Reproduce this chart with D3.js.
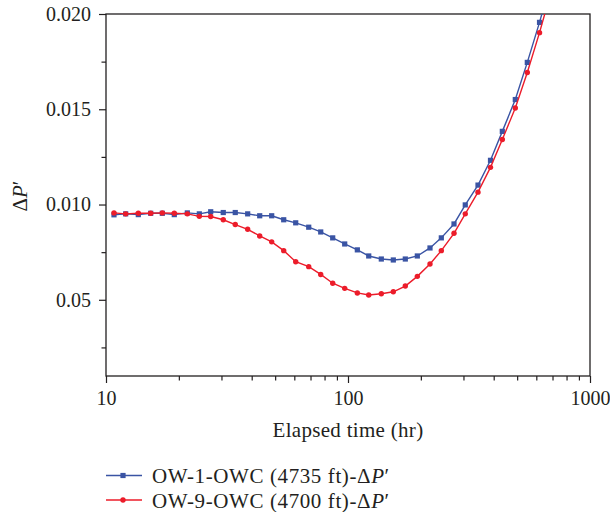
<!DOCTYPE html>
<html>
<head>
<meta charset="utf-8">
<script src="https://cdn.jsdelivr.net/npm/d3@7"></script>
<style>
  html, body { margin: 0; padding: 0; background: #fff; }
  svg { display: block; }
  text { font-family: "Liberation Serif", "DejaVu Serif", serif; fill: #231f20; }
</style>
</head>
<body>
<svg id="chart" width="610" height="512"></svg>
<script>
// ---- data ----
const elapsedHr = [10.79, 12.06, 13.60, 15.30, 17.09, 19.15, 21.68, 24.30, 27.08, 30.52,
  34.21, 38.50, 43.17, 48.38, 54.24, 60.80, 68.82, 77.14, 86.46, 96.91,
  109.3, 121.8, 137.3, 153.9, 172.5, 193.4, 218.2, 243.0, 274.2, 305.2,
  344.5, 388.0, 434.2, 491.3, 550.7, 618.6, 694.0];
const ow1 = [0.00946, 0.00951, 0.00947, 0.00954, 0.00954, 0.00947, 0.00956, 0.00951, 0.00962, 0.00958,
  0.00958, 0.00951, 0.00941, 0.00941, 0.00920, 0.00904, 0.00881, 0.00856, 0.00825, 0.00793,
  0.00762, 0.00730, 0.00714, 0.00709, 0.00714, 0.00730, 0.00772, 0.00825, 0.00898, 0.00998,
  0.01102, 0.01232, 0.01384, 0.01551, 0.01746, 0.01956, 0.02183];
const ow9 = [0.00956, 0.00951, 0.00954, 0.00954, 0.00956, 0.00954, 0.00951, 0.00938, 0.00937, 0.00920,
  0.00895, 0.00870, 0.00835, 0.00804, 0.00758, 0.00700, 0.00674, 0.00633, 0.00587, 0.00560,
  0.00536, 0.00525, 0.00532, 0.00542, 0.00572, 0.00623, 0.00688, 0.00758, 0.00849, 0.00951,
  0.01065, 0.01195, 0.01341, 0.01507, 0.01693, 0.01902, 0.02128];
const seriesNames = ["OW-1-OWC (4735 ft)-", "OW-9-OWC (4700 ft)-"];
const xTickValues = [10, 100, 1000];
const xTickLabels = ["10", "100", "1000"];
const yTickValues = [0.020, 0.015, 0.010, 0.005];
const yTickLabels = ["0.020", "0.015", "0.010", "0.05"];
const yMinorTicks = [0.0175, 0.0125, 0.0075, 0.0025];
const xMinorTicks = [20, 30, 40, 50, 60, 70, 80, 90, 200, 300, 400, 500, 600, 700, 800, 900];

// ---- layout ----
const svg = d3.select("#chart");
const L = 106, R = 590, T = 14, B = 376;
const blue = "#3a54a4", red = "#ec1c2a";

const x = d3.scaleLog().domain([10, 1000]).range([L, R]);
const y = d3.scaleLinear().domain([0.001, 0.020]).range([B, T]);

svg.append("defs").append("clipPath").attr("id", "plotclip")
  .append("rect").attr("x", L).attr("y", T).attr("width", R - L).attr("height", B - T);

// axes
const xAxis = svg.append("g").attr("transform", `translate(0,${B})`)
  .call(d3.axisBottom(x).tickValues(xTickValues).tickSize(7).tickPadding(8)
    .tickFormat((d, i) => xTickLabels[i]));
const xMinor = svg.append("g").attr("transform", `translate(0,${B})`)
  .call(d3.axisBottom(x).tickValues(xMinorTicks).tickSize(4.5).tickFormat(""));
const yAxis = svg.append("g").attr("transform", `translate(${L},0)`)
  .call(d3.axisLeft(y).tickValues(yTickValues).tickSize(7).tickPadding(8)
    .tickFormat((d, i) => yTickLabels[i]));
const yMinor = svg.append("g").attr("transform", `translate(${L},0)`)
  .call(d3.axisLeft(y).tickValues(yMinorTicks).tickSize(4.5).tickFormat(""));

[xAxis, xMinor, yAxis, yMinor].forEach(g => {
  g.select(".domain").remove();
  g.selectAll("line").attr("stroke", "#231f20").attr("stroke-width", 1.2);
  g.selectAll("text").attr("font-size", 20).attr("font-family", "Liberation Serif").attr("fill", "#231f20");
});

// frame
svg.append("rect").attr("x", L).attr("y", T).attr("width", R - L).attr("height", B - T)
  .attr("fill", "none").attr("stroke", "#231f20").attr("stroke-width", 1.3);

// series
const plot = svg.append("g").attr("clip-path", "url(#plotclip)");
const line = d3.line().x(d => x(d[0])).y(d => y(d[1]));
const d1 = elapsedHr.map((t, i) => [t, ow1[i]]);
const d9 = elapsedHr.map((t, i) => [t, ow9[i]]);

plot.append("path").datum(d1).attr("d", line).attr("fill", "none")
  .attr("stroke", blue).attr("stroke-width", 1.4);
plot.selectAll("rect.m1").data(d1).join("rect").attr("class", "m1")
  .attr("x", d => x(d[0]) - 2.6).attr("y", d => y(d[1]) - 2.6)
  .attr("width", 5.2).attr("height", 5.2).attr("fill", blue);

plot.append("path").datum(d9).attr("d", line).attr("fill", "none")
  .attr("stroke", red).attr("stroke-width", 1.4);
plot.selectAll("circle.m9").data(d9).join("circle").attr("class", "m9")
  .attr("cx", d => x(d[0])).attr("cy", d => y(d[1])).attr("r", 2.7).attr("fill", red);

// axis titles
svg.append("text").attr("x", (L + R) / 2).attr("y", 437).attr("text-anchor", "middle")
  .attr("font-size", 21).attr("letter-spacing", 0.3).text("Elapsed time (hr)");

const yt = svg.append("text").attr("transform", "translate(27,196) rotate(-90)")
  .attr("text-anchor", "middle").attr("font-size", 21);
yt.append("tspan").text("Δ");
yt.append("tspan").attr("font-style", "italic").text("P");
yt.append("tspan").text("′");

// legend
const legend = svg.append("g");
const legendColors = [blue, red];
seriesNames.forEach((name, i) => {
  const ly = 475.5 + i * 24.5;
  legend.append("line").attr("x1", 106).attr("x2", 142).attr("y1", ly).attr("y2", ly)
    .attr("stroke", legendColors[i]).attr("stroke-width", 1.4);
  if (i === 0) {
    legend.append("rect").attr("x", 123 - 2.6).attr("y", ly - 2.6).attr("width", 5.2).attr("height", 5.2)
      .attr("fill", blue);
  } else {
    legend.append("circle").attr("cx", 123).attr("cy", ly).attr("r", 2.7).attr("fill", red);
  }
  const t = legend.append("text").attr("x", 152).attr("y", ly + 7.5).attr("font-size", 21)
    .attr("letter-spacing", 0.6);
  t.append("tspan").text(name + "Δ");
  t.append("tspan").attr("font-style", "italic").text("P");
  t.append("tspan").text("′");
});
</script>
</body>
</html>
